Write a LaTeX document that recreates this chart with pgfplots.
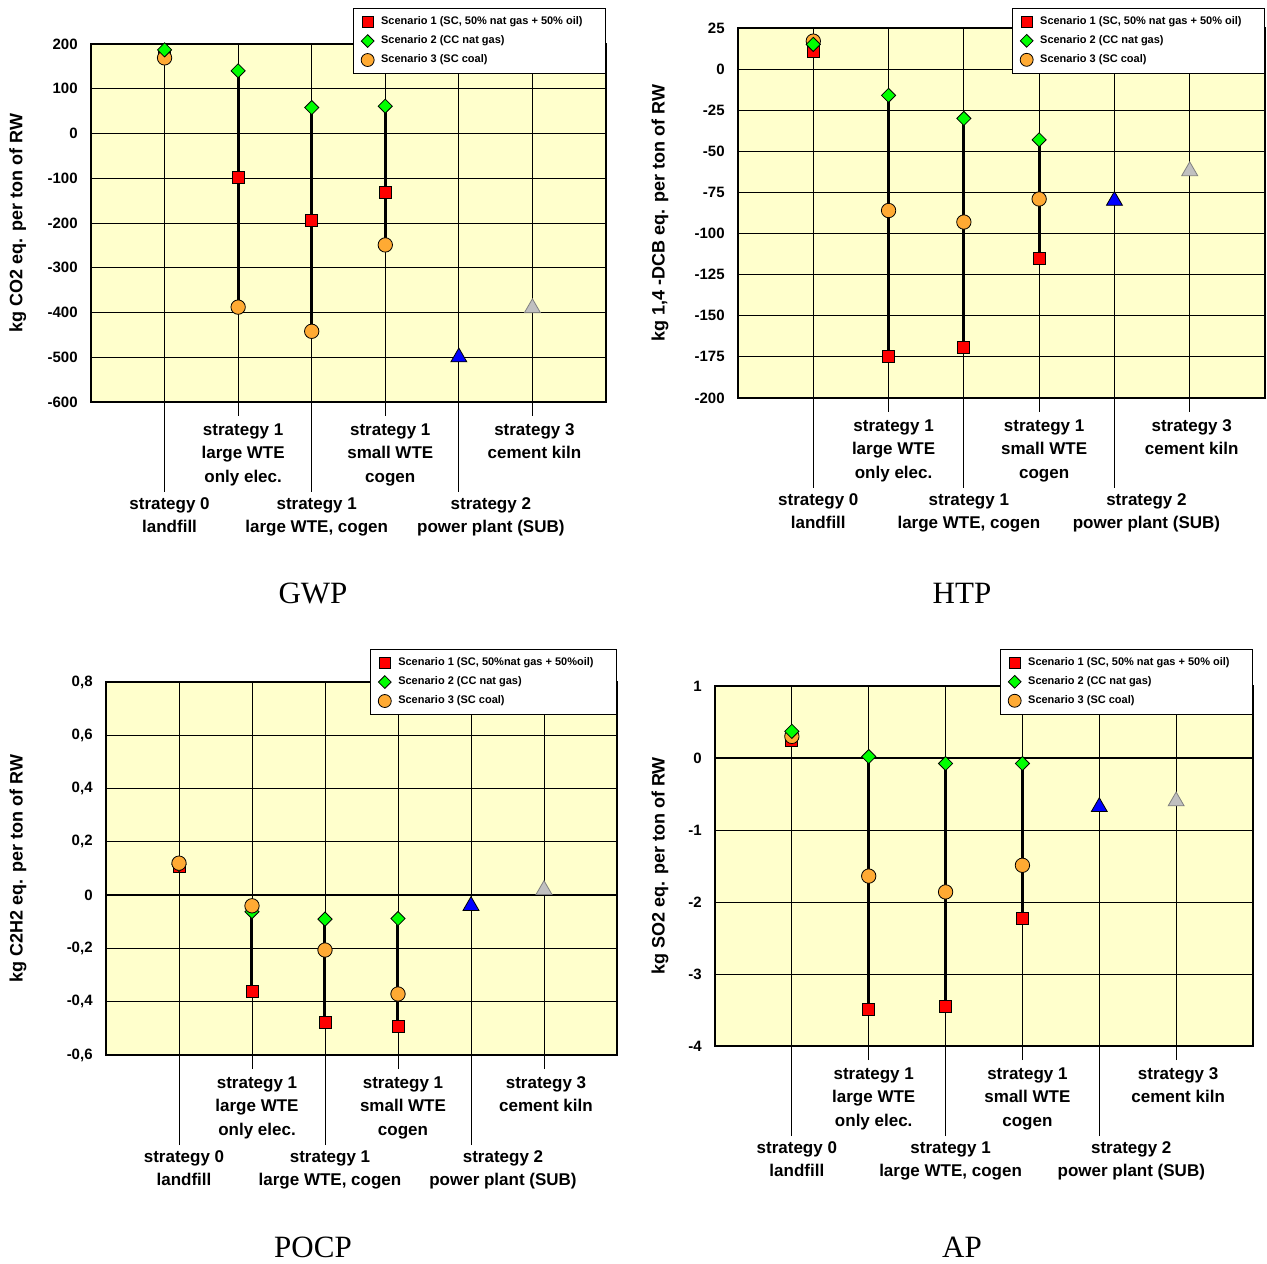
\documentclass[border=0pt]{standalone}
\usepackage{pgfplots}
\pgfplotsset{compat=1.18}
\usepackage{fontspec}
\setmainfont{Liberation Sans}
\newfontfamily\titlefont{Liberation Serif}
\definecolor{plotbg}{HTML}{FFFFCC}
\definecolor{scA}{HTML}{FF0000}
\definecolor{scB}{HTML}{00FF00}
\definecolor{scC}{HTML}{FFAA33}
\definecolor{subblue}{HTML}{0000FF}
\definecolor{kilngray}{HTML}{C0C0C0}

\tikzset{catlab/.style={font=\fontsize{8.5}{11.75}\selectfont\bfseries, align=center, anchor=north, inner sep=0pt}}

% category names under the axis; #1 = ymin of the panel
\newcommand\catlabels[1]{%
  \node[catlab, xshift=2.5pt, yshift=-47.5pt] at (axis cs:1,#1) {strategy 0\\landfill};
  \node[catlab, xshift=2.5pt, yshift=-10.5pt] at (axis cs:2,#1) {strategy 1\\large WTE\\only elec.};
  \node[catlab, xshift=2.5pt, yshift=-47.5pt] at (axis cs:3,#1) {strategy 1\\large WTE, cogen};
  \node[catlab, xshift=2.5pt, yshift=-10.5pt] at (axis cs:4,#1) {strategy 1\\small WTE\\cogen};
  \node[catlab, xshift=16pt, yshift=-47.5pt] at (axis cs:5,#1) {strategy 2\\power plant (SUB)};
  \node[catlab, xshift=1pt, yshift=-10.5pt] at (axis cs:6,#1) {strategy 3\\cement kiln};
}

\pgfplotsset{
  lgdimg/.style={legend image code/.code={\draw[##1, every mark/.append style={scale=0.9}] plot coordinates {(0.12cm,0cm)};}},
  sA/.style={only marks, mark=square*, mark size=3pt, mark options={fill=scA, draw=black, line width=0.4pt}, lgdimg},
  sB/.style={only marks, mark=square*, mark size=2.5pt, mark options={rotate=45, fill=scB, draw=black, line width=0.4pt}, lgdimg},
  sC/.style={only marks, mark=*, mark size=3.6pt, mark options={fill=scC, draw=black, line width=0.4pt}, lgdimg},
  sSub/.style={only marks, mark=triangle*, mark size=4.6pt, mark options={fill=subblue, draw=black, line width=0.4pt}},
  sKiln/.style={only marks, mark=triangle*, mark size=4.6pt, mark options={fill=kilngray, draw=gray, line width=0.4pt}},
  rng/.style={black, line width=1.5pt, unbounded coords=jump},
  lca/.style={
    scale only axis, clip=false,
    xmin=0, xmax=7,
    axis background/.style={fill=plotbg},
    axis line style={line width=1pt},
    grid=major,
    grid style={black, line width=0.4pt},
    xtick align=outside, xtick pos=bottom,
    major tick length=45pt,
    xtick style={black, line width=0.4pt},
    ytick style={draw=none},
    xtick={1,3,5}, xticklabels={},
    extra x ticks={2,4,6}, extra x tick labels={},
    extra x tick style={major tick length=7pt, grid=major},
    yticklabel style={font=\fontsize{7.5}{9}\selectfont\bfseries, inner sep=0pt, xshift=-6.5pt},
    ylabel style={font=\fontsize{9}{11}\selectfont\bfseries, anchor=center},
    legend style={anchor=north east, draw=black, line width=0.4pt, fill=white,
      font=\fontsize{5.5}{6.6}\selectfont\bfseries, cells={anchor=west},
      inner xsep=4pt, inner ysep=2pt, row sep=0pt, column sep=1.5pt},
  },
}

\begin{document}
\begin{tikzpicture}
\useasboundingbox (0,0) rectangle (633.5pt,631.5pt);

% ---------------- GWP ----------------
\begin{axis}[lca, at={(45.5pt,430.5pt)}, anchor=south west,
  width=257.5pt, height=179pt,
  ymin=-600, ymax=200,
  ytick={-600,-500,-400,-300,-200,-100,0,100,200},
  yticklabels={-600,-500,-400,-300,-200,-100,0,100,200},
  ylabel={kg CO2 eq. per ton of RW},
  ylabel style={at={(axis description cs:-0.142,0.5)}},
  legend style={at={(1,1.10)}},
]
\addlegendimage{sA}\addlegendentry{Scenario 1 (SC, 50\% nat gas + 50\% oil)\hspace*{5.5pt}}
\addlegendimage{sB}\addlegendentry{Scenario 2 (CC nat gas)}
\addlegendimage{sC}\addlegendentry{Scenario 3 (SC coal)}
\addplot[rng, forget plot] coordinates {(2,140) (2,-388) (3,nan) (3,58) (3,-442) (4,nan) (4,61) (4,-249)};
\addplot[sA, forget plot] coordinates {(1,175) (2,-97) (3,-194) (4,-131)};
\addplot[sC, forget plot] coordinates {(1,169) (2,-388) (3,-442) (4,-249)};
\addplot[sB, forget plot] coordinates {(1,187) (2,140) (3,58) (4,61)};
\addplot[sSub, forget plot] coordinates {(5,-500)};
\addplot[sKiln, forget plot] coordinates {(6,-390)};
\catlabels{-600}
\end{axis}

% ---------------- HTP ----------------
\begin{axis}[lca, at={(369pt,432.5pt)}, anchor=south west,
  width=263.5pt, height=185pt,
  ymin=-200, ymax=25,
  ytick={-200,-175,-150,-125,-100,-75,-50,-25,0,25},
  yticklabels={-200,-175,-150,-125,-100,-75,-50,-25,0,25},
  ylabel={kg 1,4 -DCB eq. per ton of RW},
  ylabel style={at={(axis description cs:-0.148,0.5)}},
  legend style={at={(1,1.054)}},
]
\addlegendimage{sA}\addlegendentry{Scenario 1 (SC, 50\% nat gas + 50\% oil)\hspace*{5.5pt}}
\addlegendimage{sB}\addlegendentry{Scenario 2 (CC nat gas)}
\addlegendimage{sC}\addlegendentry{Scenario 3 (SC coal)}
\addplot[rng, forget plot] coordinates {(2,-16) (2,-175) (3,nan) (3,-30) (3,-169) (4,nan) (4,-43) (4,-115)};
\addplot[sA, forget plot] coordinates {(1,11) (2,-175) (3,-169) (4,-115)};
\addplot[sC, forget plot] coordinates {(1,17) (2,-86) (3,-93) (4,-79)};
\addplot[sB, forget plot] coordinates {(1,15) (2,-16) (3,-30) (4,-43)};
\addplot[sSub, forget plot] coordinates {(5,-80)};
\addplot[sKiln, forget plot] coordinates {(6,-62)};
\catlabels{-200}
\end{axis}

% ---------------- POCP ----------------
\begin{axis}[lca, at={(53pt,104pt)}, anchor=south west,
  width=255.5pt, height=186.5pt,
  ymin=-0.6, ymax=0.8,
  ytick={-0.6,-0.4,-0.2,0,0.2,0.4,0.6,0.8},
  yticklabels={{-0,6},{-0,4},{-0,2},0,{0,2},{0,4},{0,6},{0,8}},
  extra y ticks={0}, extra y tick labels={},
  extra y tick style={grid=major, grid style={black, line width=1pt}},
  ylabel={kg C2H2 eq. per ton of RW},
  ylabel style={at={(axis description cs:-0.172,0.5)}},
  legend style={at={(1,1.088)}},
]
\addlegendimage{sA}\addlegendentry{Scenario 1 (SC, 50\%nat gas + 50\%oil)\hspace*{5.5pt}}
\addlegendimage{sB}\addlegendentry{Scenario 2 (CC nat gas)}
\addlegendimage{sC}\addlegendentry{Scenario 3 (SC coal)}
\addplot[rng, forget plot] coordinates {(2,-0.062) (2,-0.362) (3,nan) (3,-0.09) (3,-0.479) (4,nan) (4,-0.088) (4,-0.491)};
\addplot[sA, forget plot] coordinates {(1,0.107) (2,-0.362) (3,-0.479) (4,-0.491)};
\addplot[sB, forget plot] coordinates {(1,0.115) (2,-0.062) (3,-0.09) (4,-0.088)};
\addplot[sC, forget plot] coordinates {(1,0.12) (2,-0.04) (3,-0.206) (4,-0.371)};
\addplot[sSub, forget plot] coordinates {(5,-0.04)};
\addplot[sKiln, forget plot] coordinates {(6,0.02)};
\catlabels{-0.6}
\end{axis}

% ---------------- AP ----------------
\begin{axis}[lca, at={(357.5pt,108.5pt)}, anchor=south west,
  width=269pt, height=180pt,
  ymin=-4, ymax=1,
  ytick={-4,-3,-2,-1,0,1},
  yticklabels={-4,-3,-2,-1,0,1},
  extra y ticks={0}, extra y tick labels={},
  extra y tick style={grid=major, grid style={black, line width=1pt}},
  ylabel={kg SO2 eq. per ton of RW},
  ylabel style={at={(axis description cs:-0.102,0.5)}},
  legend style={at={(1,1.103)}},
]
\addlegendimage{sA}\addlegendentry{Scenario 1 (SC, 50\% nat gas + 50\% oil)\hspace*{5.5pt}}
\addlegendimage{sB}\addlegendentry{Scenario 2 (CC nat gas)}
\addlegendimage{sC}\addlegendentry{Scenario 3 (SC coal)}
\addplot[rng, forget plot] coordinates {(2,0.02) (2,-3.49) (3,nan) (3,-0.076) (3,-3.45) (4,nan) (4,-0.076) (4,-2.23)};
\addplot[sA, forget plot] coordinates {(1,0.25) (2,-3.49) (3,-3.45) (4,-2.23)};
\addplot[sC, forget plot] coordinates {(1,0.30) (2,-1.64) (3,-1.86) (4,-1.49)};
\addplot[sB, forget plot] coordinates {(1,0.37) (2,0.02) (3,-0.076) (4,-0.076)};
\addplot[sSub, forget plot] coordinates {(5,-0.68)};
\addplot[sKiln, forget plot] coordinates {(6,-0.6)};
\catlabels{-4}
\end{axis}

\node[font=\titlefont\fontsize{15.5}{18}\selectfont] at (156.5pt,335pt) {GWP};
\node[font=\titlefont\fontsize{15.5}{18}\selectfont] at (481pt,335pt) {HTP};
\node[font=\titlefont\fontsize{15.5}{18}\selectfont] at (156.5pt,8pt) {POCP};
\node[font=\titlefont\fontsize{15.5}{18}\selectfont] at (481pt,8pt) {AP};
\end{tikzpicture}
\end{document}
